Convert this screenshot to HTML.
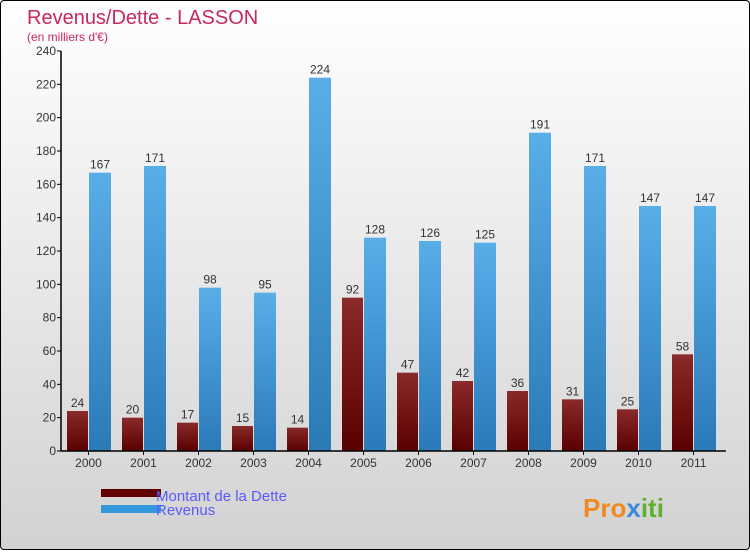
<!DOCTYPE html>
<html><head><meta charset="utf-8"><style>
html,body{margin:0;padding:0}
body{width:750px;height:550px;overflow:hidden;font-family:"Liberation Sans",sans-serif}
#wrap{position:absolute;left:0;top:0;width:748px;height:548px;border:1px solid #000;border-radius:4px;background:linear-gradient(#ffffff,#d2d2d2)}
</style></head><body>
<div id="wrap">
<svg id="chart" width="748" height="548">
<defs>
<linearGradient id="gr" x1="0" y1="0" x2="0" y2="1"><stop offset="0" stop-color="#8a2a2a"/><stop offset="1" stop-color="#5a0000"/></linearGradient>
<linearGradient id="gb" x1="0" y1="0" x2="0" y2="1"><stop offset="0" stop-color="#5aaee8"/><stop offset="1" stop-color="#2a7ab8"/></linearGradient>
</defs>
<text x="26" y="23" font-size="20" fill="#c8285a">Revenus/Dette - LASSON</text>
<text x="26" y="40" font-size="12" fill="#c8285a">(en milliers d'€)</text>
<g id="grid"></g><g id="bars"></g><g id="axes"></g>
<rect x="100" y="488" width="60" height="8" fill="#600000"/>
<text x="155" y="500" font-size="15" fill="#5a5aff">Montant de la Dette</text>
<rect x="100" y="504" width="60" height="8" fill="#3399dd"/>
<text x="155" y="514" font-size="15" fill="#5a5aff">Revenus</text>
<text x="582" y="516" font-size="26" font-weight="bold" fill="#f08a20">Pro<tspan fill="#3a8ad8">x</tspan><tspan fill="#60b030">iti</tspan></text>
</svg></div>
<script>
const years=["2000","2001","2002","2003","2004","2005","2006","2007","2008","2009","2010","2011"];
const dette=[24,20,17,15,14,92,47,42,36,31,25,58];
const revenus=[167,171,98,95,224,128,126,125,191,171,147,147];
const ticks=[0,20,40,60,80,100,120,140,160,180,200,220,240];
const NS="http://www.w3.org/2000/svg";
const x0=60,x1=725,y0=450,y1=50,gw=55;
const ys=v=>y0-(v/240)*(y0-y1);
function mk(t,a,p){const e=document.createElementNS(NS,t);for(const k in a)e.setAttribute(k,a[k]);p.appendChild(e);return e;}
const bars=document.getElementById('bars'),axes=document.getElementById('axes');
years.forEach((y,i)=>{
 const s=x0+gw*i;
 const r=mk('rect',{x:s+6,y:ys(dette[i]),width:21,height:y0-ys(dette[i]),fill:'url(#gr)'},bars);
 
 
 const b=mk('rect',{x:s+28,y:ys(revenus[i]),width:22,height:y0-ys(revenus[i]),fill:'url(#gb)'},bars);
 
 
 const t1=mk('text',{x:s+16.5,y:ys(dette[i])-4,'font-size':12,fill:'#333','text-anchor':'middle'},bars);t1.textContent=dette[i];
 
 
 const t2=mk('text',{x:s+39,y:ys(revenus[i])-4,'font-size':12,fill:'#333','text-anchor':'middle'},bars);t2.textContent=revenus[i];
 
 
 const tk=mk('line',{x1:s+27.5,x2:s+27.5,y1:y0,y2:y0+4,stroke:'#000'},axes);
 
 
 const lb=mk('text',{x:s+27.5,y:y0+16,'font-size':12,fill:'#333','text-anchor':'middle'},axes);lb.textContent=y;
 
 
});
ticks.forEach(v=>{
 const tk=mk('line',{x1:x0-4,x2:x0,y1:ys(v),y2:ys(v),stroke:'#000'},axes);
 
 
 const lb=mk('text',{x:x0-5,y:ys(v)+4,'font-size':12,fill:'#333','text-anchor':'end'},axes);lb.textContent=v;
 
 
});
const ya=mk('line',{x1:x0,x2:x0,y1:y1,y2:y0,stroke:'#000','stroke-width':1.5},axes);


const xa=mk('line',{x1:x0,x2:x1,y1:y0,y2:y0,stroke:'#000','stroke-width':1.5},axes);


</script>
</body></html>
